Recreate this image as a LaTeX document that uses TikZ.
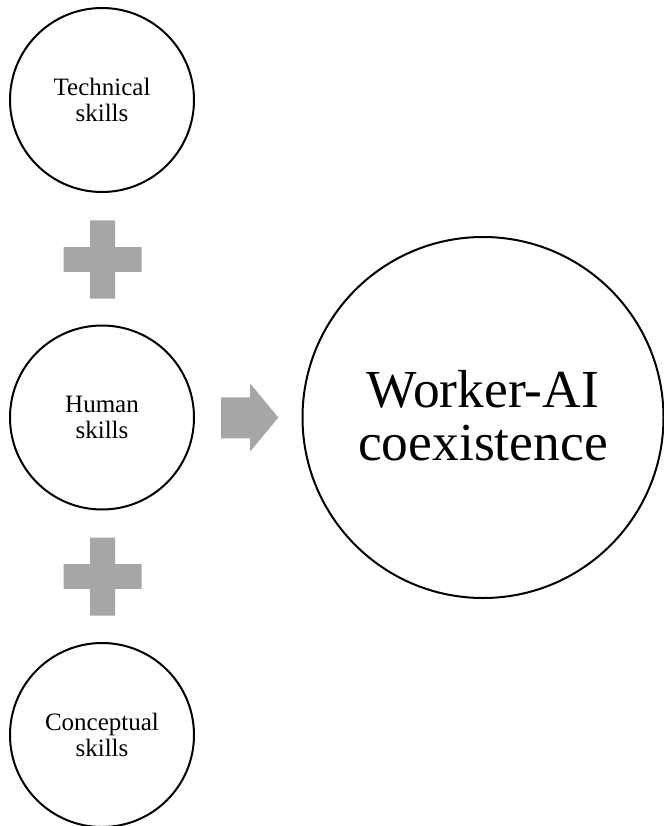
\documentclass[tikz,border=0pt]{standalone}
\usepackage{fontspec}
\setmainfont{Liberation Serif}
\definecolor{plusgray}{HTML}{A6A6A6}
\tikzset{
  skill/.style={circle, draw=black, line width=2pt, minimum size=184pt, inner sep=0pt, align=center, font=\fontsize{25}{25.5}\selectfont},
  goal/.style={circle, draw=black, line width=2pt, minimum size=361pt, inner sep=0pt, align=center, font=\fontsize{53.5}{52.5}\selectfont},
  shapefill/.style={fill=plusgray, draw=none}
}
\begin{document}
\begin{tikzpicture}[x=1pt, y=-1pt]
\useasboundingbox (0,0) rectangle (663,826);
\node[skill] (tech) at (102,100) {Technical\\skills};
\node[skill] (human) at (102,417.5) {Human\\skills};
\node[skill] (concept) at (102,735) {Conceptual\\skills};
\node[goal] (coex) at (483,417.5) {};
\node[font=\fontsize{53.5}{52.5}\selectfont, align=center, inner sep=0pt] (coextext) at ([yshift=2pt]coex.center) {Worker-AI\\coexistence};
% plus signs
\foreach \cy in {259.5, 576.5} {
  \fill[shapefill] (63.5,\cy-12.3) -- (90,\cy-12.3) -- (90,\cy-39) -- (115,\cy-39) -- (115,\cy-12.3) -- (141.5,\cy-12.3)
    -- (141.5,\cy+12.3) -- (115,\cy+12.3) -- (115,\cy+39) -- (90,\cy+39) -- (90,\cy+12.3) -- (63.5,\cy+12.3) -- cycle;
}
% arrow
\fill[shapefill] (221,397.3) -- (250,397.3) -- (250,383.3) -- (278.3,417.5) -- (250,451.7) -- (250,438.3) -- (221,438.3) -- cycle;
\end{tikzpicture}
\end{document}
